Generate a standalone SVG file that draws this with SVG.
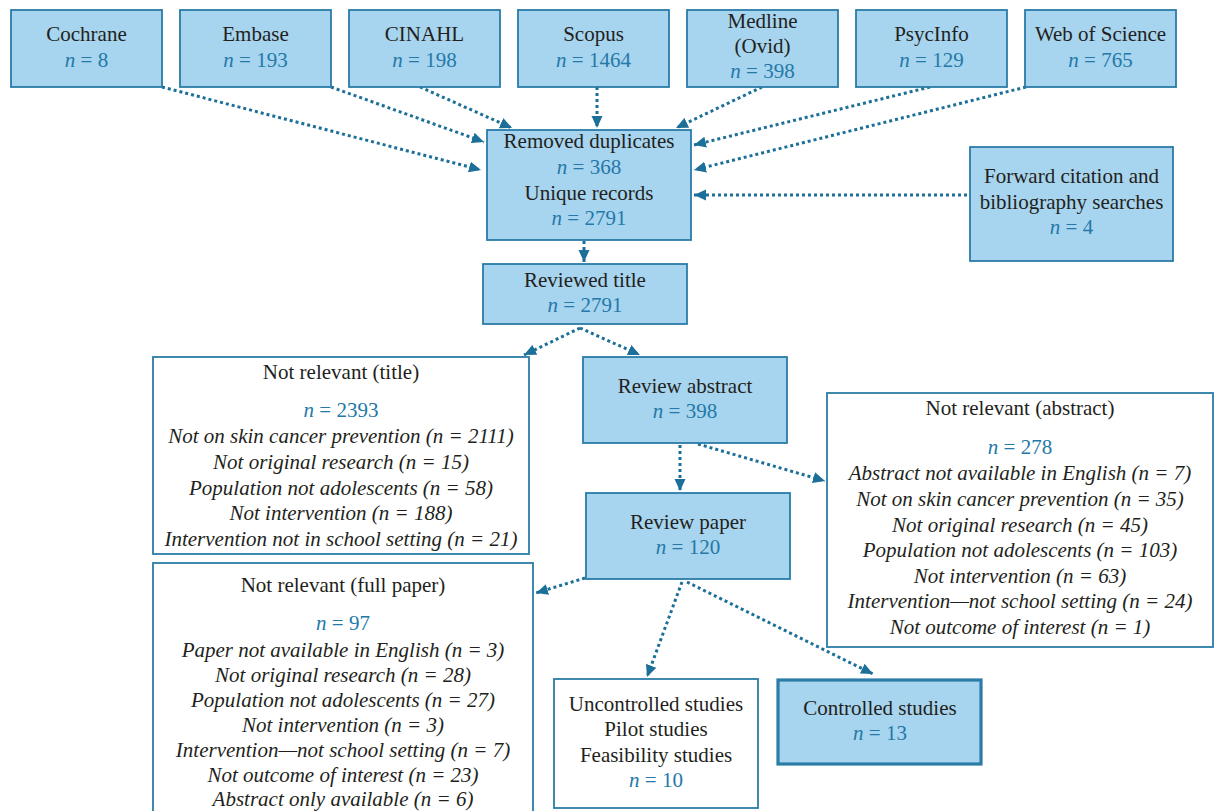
<svg xmlns="http://www.w3.org/2000/svg" width="1215" height="811" viewBox="0 0 1215 811" font-family="'Liberation Serif', 'DejaVu Serif', serif">
<defs>
<style>
.b{fill:#a7d4ee;stroke:#2b7ca7;stroke-width:1.8}
.w{fill:#ffffff;stroke:#2b7ca7;stroke-width:1.8}
.bt{fill:#a7d4ee;stroke:#2b7ca7;stroke-width:3.2}
text{font-family:'Liberation Serif','DejaVu Serif',serif;font-size:21px;fill:#231f20;text-anchor:middle}
.n{fill:#2479a8}
.i{font-style:italic}
.c{fill:none;stroke:#1c6f99;stroke-width:3;stroke-dasharray:3 3;marker-end:url(#ah)}
</style>
<marker id="ah" markerUnits="userSpaceOnUse" markerWidth="14" markerHeight="12" refX="12" refY="6" orient="auto">
<path d="M0,0.5 L12,6 L0,11.5 Z" fill="#1c6f99"/>
</marker>
</defs>
<rect width="1215" height="811" fill="#ffffff"/>

<g id="connectors">
<path class="c" d="M162,87 L481,170"/>
<path class="c" d="M331,87 L484,142"/>
<path class="c" d="M420,87 L512,128"/>
<path class="c" d="M597,87 L597,128"/>
<path class="c" d="M762,87 L676,128"/>
<path class="c" d="M930,87 L694,145"/>
<path class="c" d="M1026,87 L694,170"/>
<path class="c" d="M967,195 L694,195"/>
<path class="c" d="M584,241 L584,262"/>
<path class="c" d="M580,328 L524,355"/>
<path class="c" d="M580,328 L640,355"/>
<path class="c" d="M680,445 L680,491"/>
<path class="c" d="M698,444 L825,481"/>
<path class="c" d="M585,578 L536,593"/>
<path class="c" d="M682,582 L647,677"/>
<path class="c" d="M687,582 L873,674"/>
</g>

<g id="cochrane"><rect class="b" x="11" y="10" width="151" height="77"/>
<text x="86.5" y="41">Cochrane</text>
<text x="86.5" y="67" class="n"><tspan class="i">n</tspan> = 8</text></g>

<g id="embase"><rect class="b" x="180" y="10" width="151" height="77"/>
<text x="255.5" y="41">Embase</text>
<text x="255.5" y="67" class="n"><tspan class="i">n</tspan> = 193</text></g>

<g id="cinahl"><rect class="b" x="349" y="10" width="151" height="77"/>
<text x="424.5" y="41">CINAHL</text>
<text x="424.5" y="67" class="n"><tspan class="i">n</tspan> = 198</text></g>

<g id="scopus"><rect class="b" x="518" y="10" width="151" height="77"/>
<text x="593.5" y="41">Scopus</text>
<text x="593.5" y="67" class="n"><tspan class="i">n</tspan> = 1464</text></g>

<g id="medline"><rect class="b" x="687" y="10" width="151" height="77"/>
<text x="762.5" y="28">Medline</text>
<text x="762.5" y="53">(Ovid)</text>
<text x="762.5" y="78" class="n"><tspan class="i">n</tspan> = 398</text></g>

<g id="psycinfo"><rect class="b" x="856" y="10" width="151" height="77"/>
<text x="931.5" y="41">PsycInfo</text>
<text x="931.5" y="67" class="n"><tspan class="i">n</tspan> = 129</text></g>

<g id="wos"><rect class="b" x="1025" y="10" width="151" height="77"/>
<text x="1100.5" y="41">Web of Science</text>
<text x="1100.5" y="67" class="n"><tspan class="i">n</tspan> = 765</text></g>

<g id="forward"><rect class="b" x="970" y="147" width="203" height="114"/>
<text x="1071.5" y="183">Forward citation and</text>
<text x="1071.5" y="209">bibliography searches</text>
<text x="1071.5" y="234" class="n"><tspan class="i">n</tspan> = 4</text></g>

<g id="removed"><rect class="b" x="487" y="130" width="204" height="110"/>
<text x="589" y="148">Removed duplicates</text>
<text x="589" y="174" class="n"><tspan class="i">n</tspan> = 368</text>
<text x="589" y="200">Unique records</text>
<text x="589" y="225" class="n"><tspan class="i">n</tspan> = 2791</text></g>

<g id="reviewed-title"><rect class="b" x="483" y="264" width="204" height="60"/>
<text x="585" y="287">Reviewed title</text>
<text x="585" y="312" class="n"><tspan class="i">n</tspan> = 2791</text></g>

<g id="nr-title"><rect class="w" x="153" y="357" width="376" height="197"/>
<text x="341" y="379">Not relevant (title)</text>
<text x="341" y="417" class="n"><tspan class="i">n</tspan> = 2393</text>
<text x="341" y="443" class="i">Not on skin cancer prevention (n = 2111)</text>
<text x="341" y="469" class="i">Not original research (n = 15)</text>
<text x="341" y="495" class="i">Population not adolescents (n = 58)</text>
<text x="341" y="520" class="i">Not intervention (n = 188)</text>
<text x="341" y="546" class="i">Intervention not in school setting (n = 21)</text></g>

<g id="review-abstract"><rect class="b" x="583" y="357" width="204" height="86"/>
<text x="685" y="393">Review abstract</text>
<text x="685" y="418" class="n"><tspan class="i">n</tspan> = 398</text></g>

<g id="nr-abstract"><rect class="w" x="827" y="393" width="386" height="254"/>
<text x="1020" y="415">Not relevant (abstract)</text>
<text x="1020" y="454" class="n"><tspan class="i">n</tspan> = 278</text>
<text x="1020" y="480" class="i">Abstract not available in English (n = 7)</text>
<text x="1020" y="506" class="i">Not on skin cancer prevention (n = 35)</text>
<text x="1020" y="532" class="i">Not original research (n = 45)</text>
<text x="1020" y="557" class="i">Population not adolescents (n = 103)</text>
<text x="1020" y="583" class="i">Not intervention (n = 63)</text>
<text x="1020" y="608" class="i">Intervention—not school setting (n = 24)</text>
<text x="1020" y="634" class="i">Not outcome of interest (n = 1)</text></g>

<g id="review-paper"><rect class="b" x="586" y="493" width="204" height="86"/>
<text x="688" y="529">Review paper</text>
<text x="688" y="554" class="n"><tspan class="i">n</tspan> = 120</text></g>

<g id="nr-full"><rect class="w" x="153" y="563" width="380" height="260"/>
<text x="343" y="592">Not relevant (full paper)</text>
<text x="343" y="630" class="n"><tspan class="i">n</tspan> = 97</text>
<text x="343" y="657" class="i">Paper not available in English (n = 3)</text>
<text x="343" y="682" class="i">Not original research (n = 28)</text>
<text x="343" y="707" class="i">Population not adolescents (n = 27)</text>
<text x="343" y="732" class="i">Not intervention (n = 3)</text>
<text x="343" y="757" class="i">Intervention—not school setting (n = 7)</text>
<text x="343" y="782" class="i">Not outcome of interest (n = 23)</text>
<text x="343" y="806" class="i">Abstract only available (n = 6)</text></g>

<g id="uncontrolled"><rect class="w" x="554" y="679" width="204" height="129"/>
<text x="656" y="711">Uncontrolled studies</text>
<text x="656" y="736">Pilot studies</text>
<text x="656" y="762">Feasibility studies</text>
<text x="656" y="787" class="n"><tspan class="i">n</tspan> = 10</text></g>

<g id="controlled"><rect class="bt" x="778" y="680" width="203" height="84"/>
<text x="880" y="715">Controlled studies</text>
<text x="880" y="740" class="n"><tspan class="i">n</tspan> = 13</text></g>
</svg>
